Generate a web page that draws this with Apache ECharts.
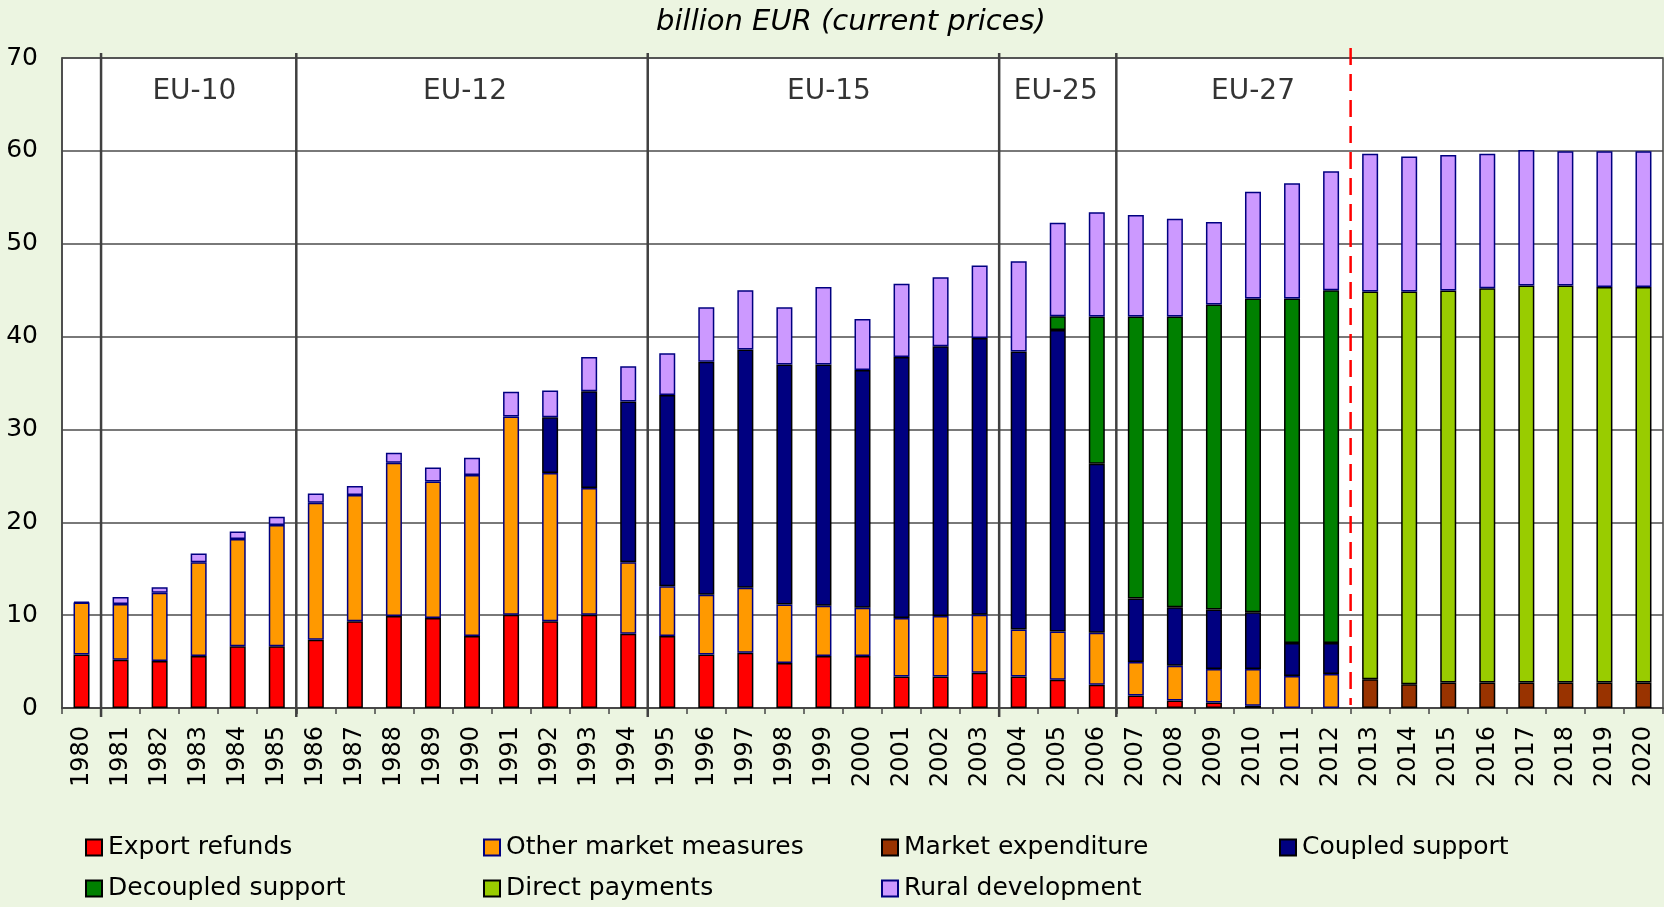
<!DOCTYPE html>
<html>
<head>
<meta charset="utf-8">
<script src="https://cdn.jsdelivr.net/npm/echarts@6/dist/echarts.min.js"></script>
<style>
html,body{margin:0;padding:0;background:#ECF5E1;}
#chart{width:1664px;height:907px;}
</style>
</head>
<body>
<div id="chart"></div>
<script>
const years = ['1980','1981','1982','1983','1984','1985','1986','1987','1988','1989',
  '1990','1991','1992','1993','1994','1995','1996','1997','1998','1999',
  '2000','2001','2002','2003','2004','2005','2006','2007','2008','2009',
  '2010','2011','2012','2013','2014','2015','2016','2017','2018','2019','2020'];

const exportRefunds = [5.75,5.2,5.05,5.6,6.65,6.65,7.35,9.35,9.9,9.7,
  7.75,10.05,9.35,10.05,8.0,7.75,5.75,5.95,4.85,5.6,
  5.6,3.4,3.4,3.8,3.4,3.05,2.5,1.35,0.8,0.6,
  0.25,null,null,null,null,null,null,null,null,null,null];

const otherMarket = [5.6,6.0,7.35,10.1,11.55,13.05,14.75,13.6,16.5,14.7,
  17.35,21.35,15.95,13.65,7.7,5.35,6.45,7.0,6.3,5.4,
  5.2,6.3,6.5,6.25,5.05,5.2,5.6,3.6,3.75,3.6,
  3.95,3.45,3.65,null,null,null,null,null,null,null,null];

const marketExp = [null,null,null,null,null,null,null,null,null,null,
  null,null,null,null,null,null,null,null,null,null,
  null,null,null,null,null,null,null,null,null,null,
  null,null,null,3.1,2.55,2.75,2.75,2.75,2.75,2.75,2.75];

const coupled = [null,null,null,null,null,null,null,null,null,null,
  null,null,6.0,10.4,17.3,20.6,25.1,25.65,25.85,26.0,
  25.6,28.1,29.05,29.8,29.95,32.45,18.2,6.85,6.3,6.4,
  6.1,3.55,3.35,null,null,null,null,null,null,null,null];

const decoupled = [null,null,null,null,null,null,null,null,null,null,
  null,null,null,null,null,null,null,null,null,null,
  null,null,null,null,null,1.5,15.85,30.35,31.3,32.85,
  33.8,37.1,38.0,null,null,null,null,null,null,null,null];

const directPay = [null,null,null,null,null,null,null,null,null,null,
  null,null,null,null,null,null,null,null,null,null,
  null,null,null,null,null,null,null,null,null,null,
  null,null,null,41.75,42.3,42.2,42.45,42.75,42.75,42.6,42.6];

const rural = [0.1,0.75,0.6,0.95,0.8,0.9,1.0,0.95,1.1,1.5,
  1.85,2.65,2.9,3.7,3.8,4.5,5.85,6.4,6.15,8.35,
  5.5,7.9,7.45,7.8,9.7,10.05,11.25,10.95,10.55,8.9,
  11.5,12.4,12.8,14.85,14.55,14.6,14.5,14.6,14.45,14.6,14.6];

const yTicks = [0,10,20,30,40,50,60,70];
const regionNames = ['EU-10','EU-12','EU-15','EU-25','EU-27'];
const regionLabelAt = [3.39,10.32,19.64,25.45,30.5];  // in category units
const regionBounds = [1,6,15,24,27];                  // enlargement separators
const forecastStart = 33;                             // red dashed line
const regionLabelValue = 66.4;

const FONT = 'DejaVu Sans';
const Y_MIN = yTicks[0], Y_MAX = yTicks[yTicks.length-1];

const seriesDefs = [
  {name:'Export refunds', data:exportRefunds, color:'#FF0000', border:'#000000'},
  {name:'Other market measures', data:otherMarket, color:'#FF9900', border:'#000080'},
  {name:'Market expenditure', data:marketExp, color:'#993300', border:'#000000'},
  {name:'Coupled support', data:coupled, color:'#000080', border:'#000000'},
  {name:'Decoupled support', data:decoupled, color:'#008000', border:'#000000'},
  {name:'Direct payments', data:directPay, color:'#99CC00', border:'#000000'},
  {name:'Rural development', data:rural, color:'#CC99FF', border:'#000080'}
];

const barSeries = seriesDefs.map(s => ({
  name: s.name, type:'bar', stack:'total', data:s.data, barWidth:16,
  itemStyle:{color:s.color, borderColor:s.border, borderWidth:1.5},
  emphasis:{disabled:true}
}));

function vLine(overTop, underBottom, style){
  return function(params, api){
    const x = api.value(0);
    const t = api.coord([x, Y_MAX]);
    const b = api.coord([x, Y_MIN]);
    return {type:'line', shape:{x1:t[0], y1:t[1]-overTop, x2:b[0], y2:b[1]+underBottom}, style:style};
  };
}

const separators = {
  type:'custom', xAxisIndex:1, yAxisIndex:0, clip:false, silent:true, z:5,
  data: regionBounds.map(b => [b, 0]), encode:{x:0, y:1},
  renderItem: vLine(5, 9, {stroke:'#404040', lineWidth:2.5})
};
const forecastLine = {
  type:'custom', xAxisIndex:1, yAxisIndex:0, clip:false, silent:true, z:6,
  data: [[forecastStart, 0]], encode:{x:0, y:1},
  renderItem: vLine(10, -3, {stroke:'#FF0000', lineWidth:2.5, lineDash:[17,9]})
};

const regionLabels = {
  type:'scatter', xAxisIndex:1, yAxisIndex:0, clip:false, silent:true,
  symbolSize:1, itemStyle:{color:'rgba(0,0,0,0)'},
  data: regionLabelAt.map(x => [x, regionLabelValue]),
  label:{show:true, position:'inside', color:'#000', fontFamily:FONT, fontSize:28,
    formatter: p => regionNames[p.dataIndex]},
  z:5
};

const legendCols = [85, 483, 881, 1279];
const legendRows = [835, 876];
const legends = seriesDefs.map((s,i) => ({
  data:[s.name], left: legendCols[i%4], top: legendRows[Math.floor(i/4)],
  padding:0, itemWidth:16, itemHeight:16, itemGap:0, icon:'rect',
  selectedMode:false,
  textStyle:{fontFamily:FONT, fontSize:25, color:'#000', padding:[0,0,0,1]}
}));

const chart = echarts.init(document.getElementById('chart'));
chart.setOption({
  backgroundColor:'#ECF5E1',
  animation:false,
  textStyle:{fontFamily:FONT},
  title:{text:'billion EUR (current prices)', left:846, top:3, textAlign:'center',
    textStyle:{fontFamily:FONT, fontStyle:'italic', fontWeight:'normal', fontSize:29, color:'#000'}},
  legend: legends,
  grid:{left:62, right:1, top:58, bottom:199, show:true, backgroundColor:'#FFFFFF',
    borderColor:'#444444', borderWidth:1.5, containLabel:false},
  xAxis:[
    {type:'category', data:years, boundaryGap:true,
      axisLine:{lineStyle:{color:'#444444', width:1.5}},
      axisTick:{show:true, length:6, lineStyle:{color:'#444444', width:1.5}},
      axisLabel:{rotate:90, fontFamily:FONT, fontSize:24, color:'#000', margin:18, interval:0}},
    {type:'value', min:0, max:years.length, show:false}
  ],
  yAxis:{type:'value', min:Y_MIN, max:Y_MAX, interval:10,
    axisLine:{show:true, lineStyle:{color:'#444444', width:1.5}},
    axisTick:{show:false},
    splitLine:{show:true, lineStyle:{color:'#4D4D4D', width:1.5}},
    axisLabel:{fontFamily:FONT, fontSize:25, color:'#000', margin:24}},
  series: barSeries.concat([separators, forecastLine, regionLabels])
});
</script>
</body>
</html>
